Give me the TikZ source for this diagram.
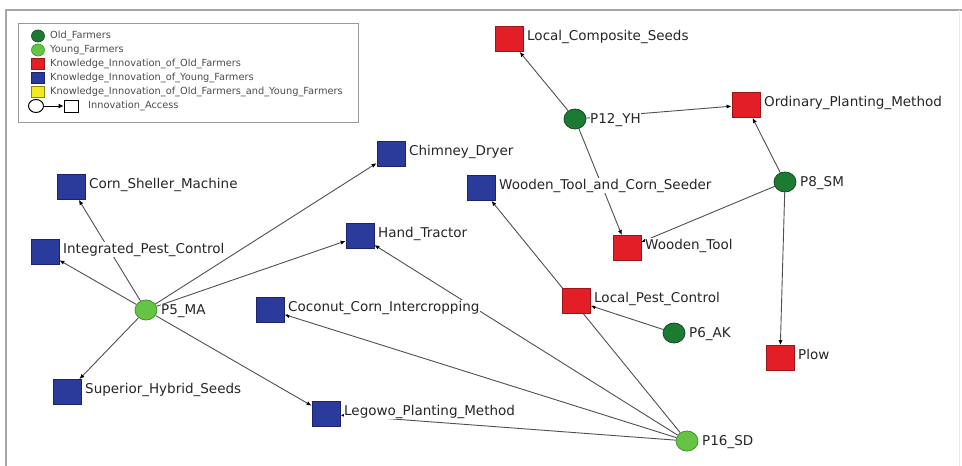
\documentclass[tikz,border=0pt]{standalone}
\usepackage{fontspec}
\setmainfont{DejaVu Sans}
\usetikzlibrary{arrows.meta,shapes.geometric,calc}
\pgfdeclarelayer{bg}
\pgfdeclarelayer{paper}
\pgfsetlayers{paper,bg,main}
\definecolor{nred}{HTML}{E41E26}
\definecolor{nredd}{HTML}{9E1518}
\definecolor{nblue}{HTML}{2B3B9C}
\definecolor{nblued}{HTML}{1A236B}
\definecolor{lgreen}{HTML}{66C444}
\definecolor{lgreend}{HTML}{3F962A}
\definecolor{dgreen}{HTML}{1D7A33}
\definecolor{dgreend}{HTML}{0F4D1E}
\definecolor{nyellow}{HTML}{F2EA1E}
\definecolor{nyellowd}{HTML}{8A8410}
\definecolor{edgecol}{HTML}{505050}
\begin{document}
\begin{tikzpicture}[x=1pt,y=-1pt,
  sq/.style={rectangle, minimum width=28pt, minimum height=25pt, inner sep=0pt, line width=0.8pt},
  redsq/.style={sq, fill=nred, draw=nredd},
  bluesq/.style={sq, fill=nblue, draw=nblued},
  circ/.style={ellipse, minimum width=22pt, minimum height=20pt, inner sep=0pt, line width=0.8pt},
  oldf/.style={circ, fill=dgreen, draw=dgreend},
  youngf/.style={circ, fill=lgreen, draw=lgreend},
  lbl/.style={font=\fontsize{13.5}{15}\selectfont, fill=white, inner sep=0.6pt, anchor=base west, text=black!85},
  lgt/.style={font=\fontsize{9.8}{11}\selectfont, anchor=west, inner sep=0pt, text=black!70},
  lgs/.style={inner sep=0pt, line width=0.7pt},
  conn/.style={draw=edgecol, line width=0.9pt, -{Latex[length=5pt,width=4.2pt,color=black]}}
]
\useasboundingbox (0,0) rectangle (962,466);
\begin{pgfonlayer}{paper}
\fill[white] (0,0) rectangle (962,466);
\end{pgfonlayer}
% frame
\draw[black!35, line width=1.5pt] (5,10) -- (962,10);
\draw[black!35, line width=1.5pt] (6,10) -- (6,466);
\draw[black!8, line width=1pt] (959,10) -- (959,466);

% legend
\draw[black!40, line width=0.8pt] (18,23) rectangle (358,122);
\node[lgs, ellipse, fill=dgreen, draw=dgreend, minimum width=13pt, minimum height=12pt] (lg1) at (38,36) {};
\node[lgt] (lg1t) at (50,36) {Old\_Farmers};
\node[lgs, ellipse, fill=lgreen, draw=lgreend, minimum width=13pt, minimum height=12pt] (lg2) at (38,50) {};
\node[lgt] (lg2t) at (50,50) {Young\_Farmers};
\node[lgs, rectangle, fill=nred, draw=nredd, minimum width=13pt, minimum height=11pt] (lg3) at (38,64) {};
\node[lgt] (lg3t) at (50,64) {Knowledge\_Innovation\_of\_Old\_Farmers};
\node[lgs, rectangle, fill=nblue, draw=nblued, minimum width=13pt, minimum height=11pt] (lg4) at (38,78) {};
\node[lgt] (lg4t) at (50,78) {Knowledge\_Innovation\_of\_Young\_Farmers};
\node[lgs, rectangle, fill=nyellow, draw=nyellowd, minimum width=13pt, minimum height=11pt] (lg5) at (38,92) {};
\node[lgt] (lg5t) at (50,92) {Knowledge\_Innovation\_of\_Old\_Farmers\_and\_Young\_Farmers};
\node[lgs, ellipse, draw=black, fill=white, line width=1pt, minimum width=15pt, minimum height=13pt] (lga) at (36,106) {};
\node[lgs, rectangle, draw=black, fill=white, line width=0.8pt, minimum width=14pt, minimum height=12pt] (lgb) at (71,106) {};
\draw[line width=1pt, -{Latex[length=5pt,width=5pt]}] (lga) -- (lgb);
\node[lgt] (lg6t) at (88,106) {Innovation\_Access};

% squares
\node[redsq] (lcs) at (509,39) {};
\node[redsq] (opm) at (746,105) {};
\node[bluesq] (wtcs) at (481,188) {};
\node[bluesq] (cd) at (391,154) {};
\node[bluesq] (csm) at (71,187) {};
\node[bluesq] (ipc) at (45,252) {};
\node[bluesq] (ht) at (360,236) {};
\node[bluesq] (cci) at (270,310) {};
\node[bluesq] (shs) at (67,392) {};
\node[bluesq] (lpm) at (326,414) {};
\node[redsq] (wt) at (627,248) {};
\node[redsq] (lpc) at (576,301) {};
\node[redsq] (pl) at (780,358) {};
% farmers
\node[oldf] (p12) at (575,119) {};
\node[oldf] (p8) at (785,182) {};
\node[youngf] (p5) at (146,310) {};
\node[oldf] (p6) at (674,333) {};
\node[youngf] (p16) at (687,441) {};

% edges
\begin{pgfonlayer}{bg}
\draw[conn] (p5) -- (csm);
\draw[conn] (p5) -- (ipc);
\draw[conn] (p5) -- (cd);
\draw[conn] (p5) -- (ht);
\draw[conn] (p5) -- (shs);
\draw[conn] (p5) -- (lpm);
\draw[conn] (p16) -- (ht);
\draw[conn] (p16) -- (cci);
\draw[conn] (p16) -- (lpm);
\draw[conn] (p16) -- (wtcs);
\draw[conn] (p6) -- (lpc);
\draw[conn] (p12) -- (lcs);
\draw[conn] (p12) -- (opm);
\draw[conn] (p12) -- (wt);
\draw[conn] (p8) -- (opm);
\draw[conn] (p8) -- (pl);
\draw[conn] (p8) -- (wt);
\end{pgfonlayer}

% labels
\node[lbl] (lcsl) at ($(lcs.north east)+(3,14)$) {Local\_Composite\_Seeds};
\node[lbl] (opml) at ($(opm.north east)+(3,14)$) {Ordinary\_Planting\_Method};
\node[lbl] (wtcsl) at ($(wtcs.north east)+(3,14)$) {Wooden\_Tool\_and\_Corn\_Seeder};
\node[lbl] (cdl) at ($(cd.north east)+(3,14)$) {Chimney\_Dryer};
\node[lbl] (csml) at ($(csm.north east)+(3,14)$) {Corn\_Sheller\_Machine};
\node[lbl] (ipcl) at ($(ipc.north east)+(3,14)$) {Integrated\_Pest\_Control};
\node[lbl] (htl) at ($(ht.north east)+(3,14)$) {Hand\_Tractor};
\node[lbl] (ccil) at ($(cci.north east)+(3,14)$) {Coconut\_Corn\_Intercropping};
\node[lbl] (shsl) at ($(shs.north east)+(3,14)$) {Superior\_Hybrid\_Seeds};
\node[lbl] (lpml) at ($(lpm.north east)+(3,14)$) {Legowo\_Planting\_Method};
\node[lbl] (wtl) at ($(wt.north east)+(3,14)$) {Wooden\_Tool};
\node[lbl] (lpcl) at ($(lpc.north east)+(3,14)$) {Local\_Pest\_Control};
\node[lbl] (pll) at ($(pl.north east)+(3,14)$) {Plow};
\node[lbl] (p12l) at ($(p12.east)+(3,4)$) {P12\_YH};
\node[lbl] (p8l) at ($(p8.east)+(3,4)$) {P8\_SM};
\node[lbl] (p5l) at ($(p5.east)+(3,4)$) {P5\_MA};
\node[lbl] (p6l) at ($(p6.east)+(3,4)$) {P6\_AK};
\node[lbl] (p16l) at ($(p16.east)+(3,4)$) {P16\_SD};
\end{tikzpicture}
\end{document}
